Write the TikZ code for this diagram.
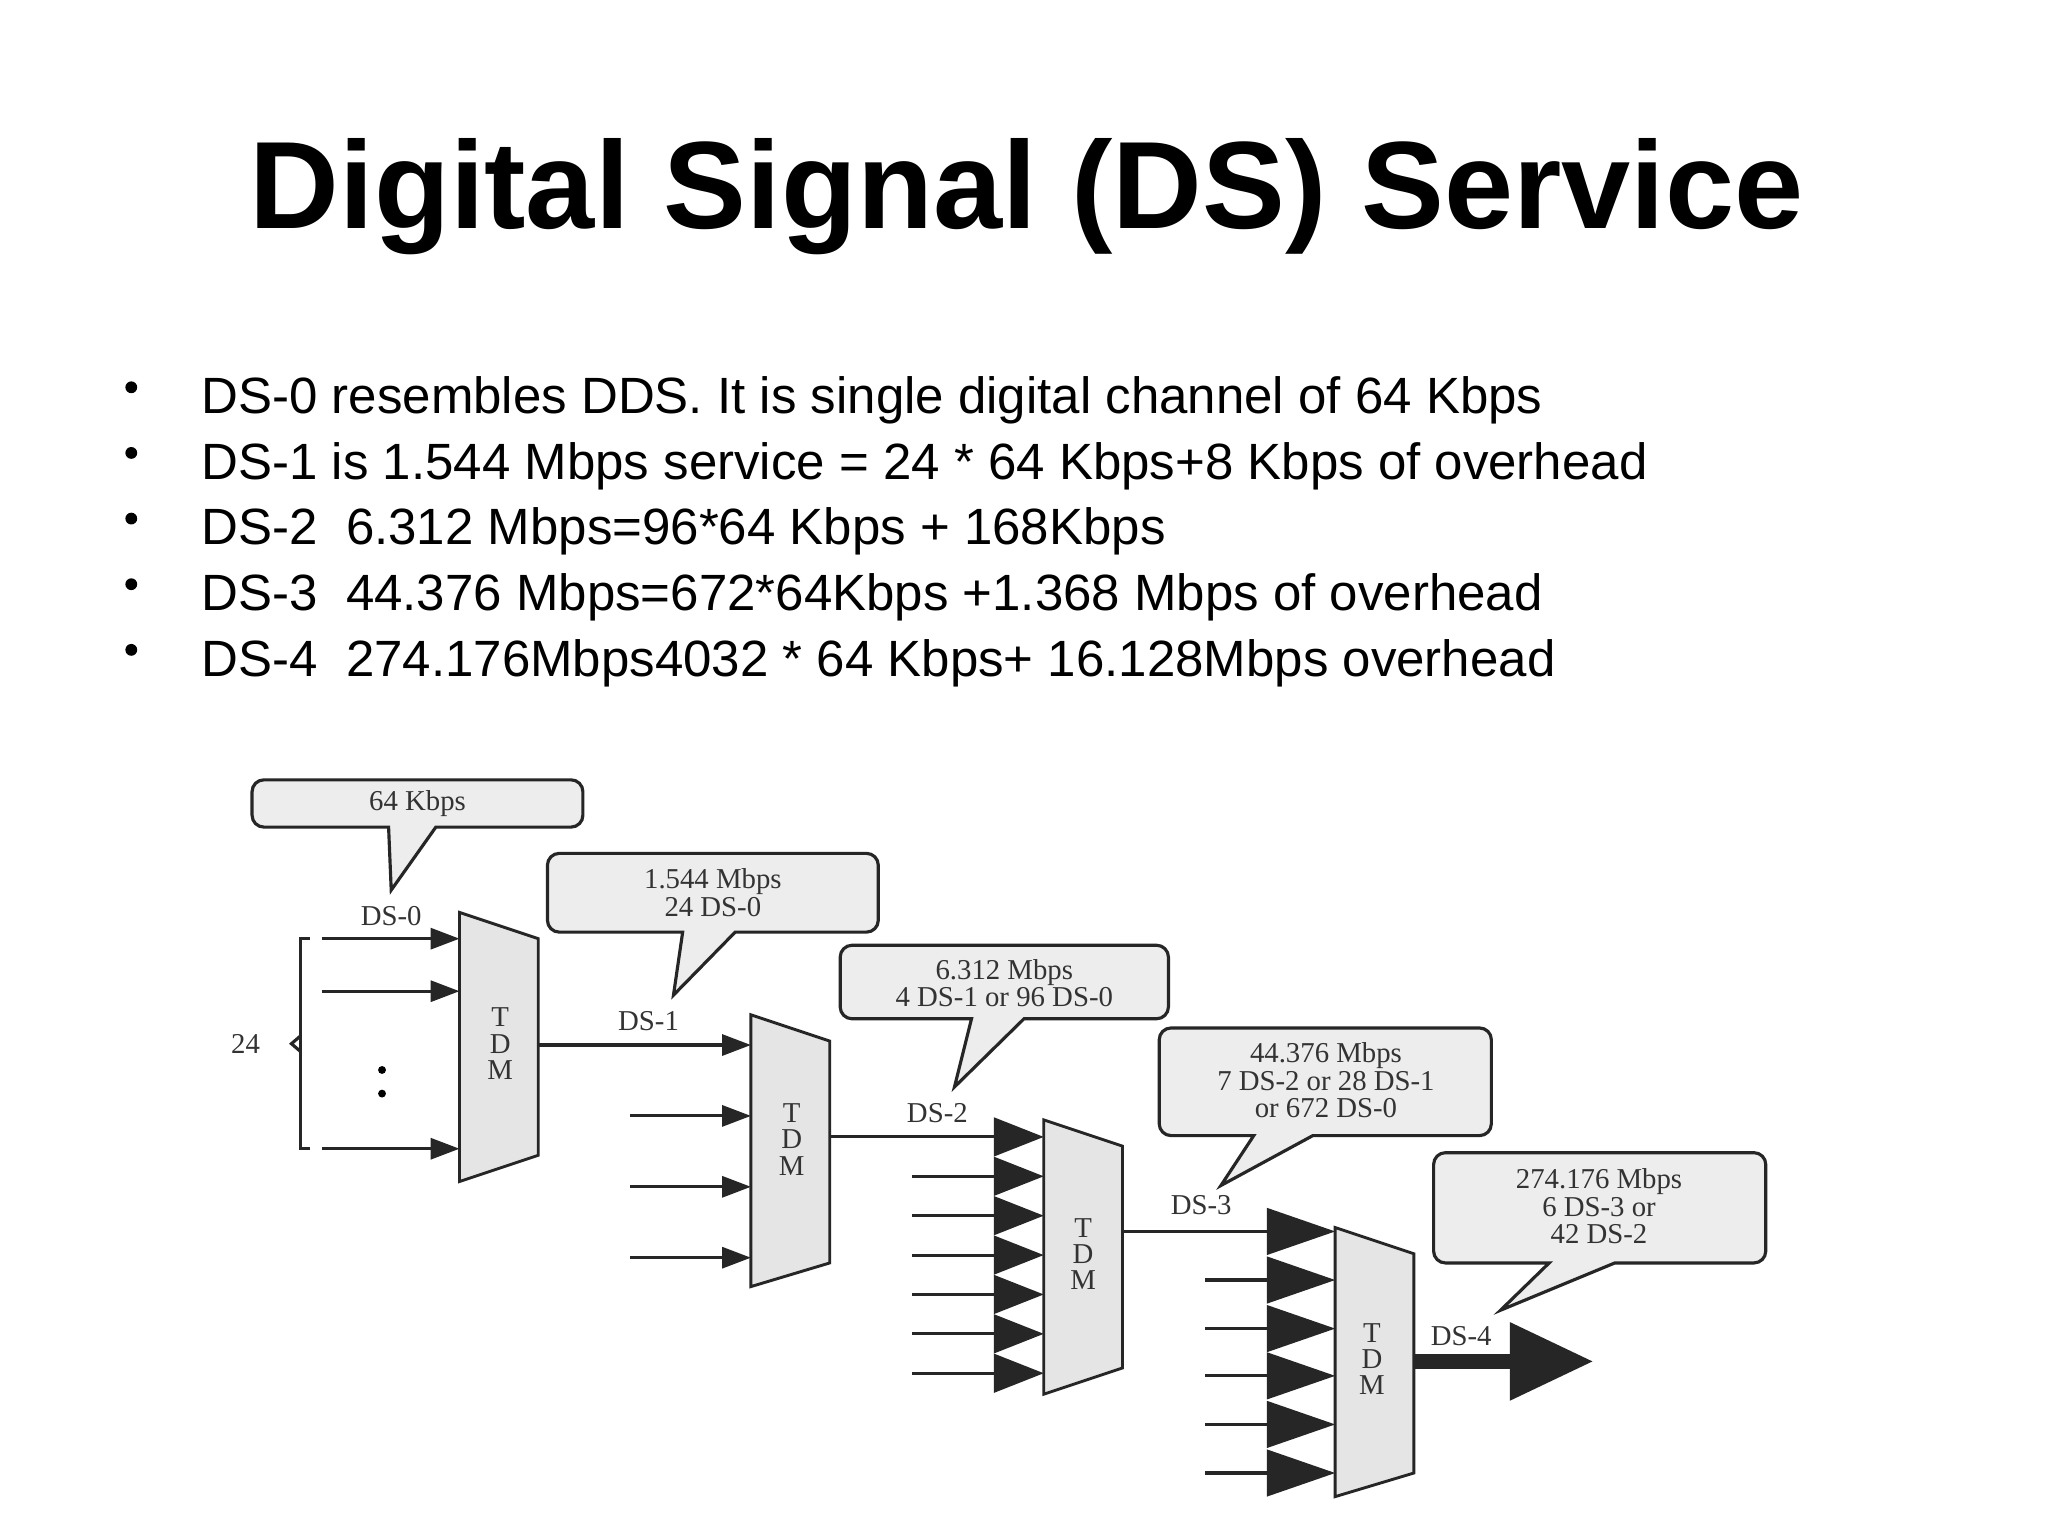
\documentclass[tikz,border=0pt]{standalone}
\usepackage{fontspec}
\setmainfont{Liberation Sans}
\newfontfamily\serifd{Liberation Serif}
\usetikzlibrary{arrows.meta}
\tikzset{
 callout/.style={draw=black!85,line width=2.4bp,fill=black!7},
 ctext/.style={font=\serifd\fontsize{22}{24}\selectfont,align=center,text=black!80},
 lab/.style={font=\serifd\fontsize{22}{24}\selectfont,text=black!80},
 tdm/.style={draw=black!85,line width=2.2bp,fill=black!10},
 sig/.style={line width=2.4bp,draw=black!85},
 ar/.style={sig,-{Triangle[length=22bp,width=16bp]}},
 tri/.style={fill=black!85},
 bullet/.style={font=\fontsize{39}{42}\selectfont,anchor=base west}
}
\newcommand{\mycallout}[7]{%
 \draw[callout] (#6,#4) -- (#7) -- (#5,#4) [rounded corners=9bp] -- (#1,#4) -- (#1,#2) -- (#3,#2) -- (#3,#4) [sharp corners] -- cycle;}
\begin{document}
\begin{tikzpicture}[x=1bp,y=-1bp]
\useasboundingbox (0,0) rectangle (1560,1170);
\fill[white] (0,0) rectangle (1560,1170);
\node[font=\bfseries\fontsize{95}{100}\selectfont] (title) at (782,150) {Digital Signal (DS) Service};
\foreach \yy/\t [count=\i] in {
 315/{DS-0 resembles DDS. It is single digital channel of 64 Kbps},
 365/{DS-1 is 1.544 Mbps service = 24 * 64 Kbps+8 Kbps of overhead},
 415/{DS-2 \ 6.312 Mbps=96*64 Kbps + 168Kbps},
 465/{DS-3 \ 44.376 Mbps=672*64Kbps +1.368 Mbps of overhead},
 515/{DS-4 \ 274.176Mbps4032 * 64 Kbps+ 16.128Mbps overhead}}{
 \node[bullet] (b\i) at (150,\yy) {\t};
 \fill (100,\yy-20) circle (4.5bp);
}
% callouts
\coordinate (t1) at (298,678);
\mycallout{192}{594}{444}{630}{296}{332}{t1}
\node[ctext] (c1) at (318,612) {64 Kbps};
\coordinate (t2) at (513,758);
\mycallout{417}{650}{669}{710}{520}{560}{t2}
\node[ctext] (c2) at (543,680) {1.544 Mbps\\[-3pt]24 DS-0};
\coordinate (t3) at (727,828);
\mycallout{640}{720}{890}{776}{740}{780}{t3}
\node[ctext] (c3) at (765,749) {6.312 Mbps\\[-3pt]4 DS-1 or 96 DS-0};
\coordinate (t4) at (930,903);
\mycallout{883}{783}{1136}{865}{955}{1000}{t4}
\node[ctext] (c4) at (1010,823) {44.376 Mbps\\[-3pt]7 DS-2 or 28 DS-1\\[-3pt]or 672 DS-0};
\coordinate (t5) at (1143,998);
\mycallout{1092}{878}{1345}{962}{1180}{1230}{t5}
\node[ctext] (c5) at (1218,919) {274.176 Mbps\\[-3pt]6 DS-3 or\\[-3pt]42 DS-2};
% TDM 1
\draw[tdm] (350,695) -- (410,715) -- (410,880) -- (350,900) -- cycle;
\node[lab,align=center] (m1) at (381,795) {T\\[-4pt]D\\[-4pt]M};
\node[lab] (l0) at (298,698) {DS-0};
\foreach \yy in {715,755,875} \draw[ar] (245,\yy) -- (350,\yy);
\fill (291,815) circle (3bp) (291,833) circle (3bp);
\draw[sig] (236,715) -- (229,715) -- (229,875) -- (236,875);
\draw[sig] (229,789) -- (222,795) -- (229,801);
\node[lab] (n24) at (187,795) {24};
% TDM 2
\draw[tdm] (572,773) -- (632,793) -- (632,962) -- (572,980) -- cycle;
\node[lab,align=center] (m2) at (603,868) {T\\[-4pt]D\\[-4pt]M};
\draw[ar] (410,796) -- (572,796);
\node[lab] (l1) at (494,778) {DS-1};
\foreach \yy in {850,904,958} \draw[ar] (480,\yy) -- (572,\yy);
% TDM 3
\draw[tdm] (795,853) -- (855,873) -- (855,1042) -- (795,1062) -- cycle;
\node[lab,align=center] (m3) at (825,955) {T\\[-4pt]D\\[-4pt]M};
\draw[sig] (632,866) -- (760,866);
\node[lab] (l2) at (714,848) {DS-2};
\foreach \yy in {866,896,926,956,986,1016,1046} {
 \draw[sig] (695,\yy) -- (760,\yy);
 \fill[tri] (757,\yy-15) -- (795,\yy) -- (757,\yy+15) -- cycle;}
% TDM 4
\draw[tdm] (1017,935) -- (1077,955) -- (1077,1122) -- (1017,1140) -- cycle;
\node[lab,align=center] (m4) at (1045,1035) {T\\[-4pt]D\\[-4pt]M};
\draw[sig] (855,938) -- (968,938);
\node[lab] (l3) at (915,918) {DS-3};
\foreach \yy in {938,975,1012,1048,1085,1122} {
 \draw[sig] (918,\yy) -- (968,\yy);
 \fill[tri] (965,\yy-18) -- (1017,\yy) -- (965,\yy+18) -- cycle;}
% DS-4
\fill[tri] (1077,1031) rectangle (1152,1043);
\fill[tri] (1150,1007) -- (1213,1037) -- (1150,1067) -- cycle;
\node[lab] (l4) at (1113,1018) {DS-4};
\end{tikzpicture}
\end{document}
